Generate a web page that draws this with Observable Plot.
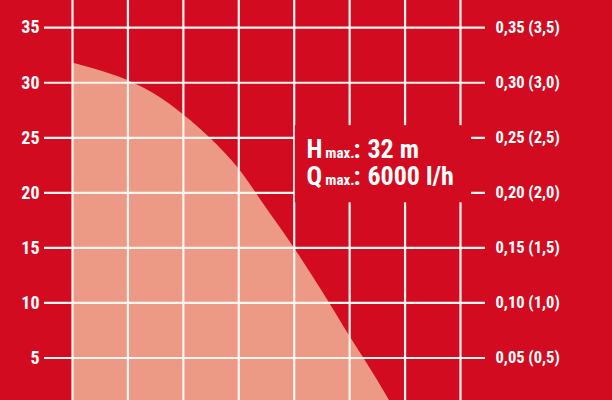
<!DOCTYPE html>
<html><head><meta charset="utf-8">
<script src="https://cdn.jsdelivr.net/npm/d3@7"></script>
<script src="https://cdn.jsdelivr.net/npm/@observablehq/plot@0.6"></script>
<style>
html,body{margin:0;padding:0;background:#d30b20;overflow:hidden;}
svg text{font-stretch:condensed;}
</style></head><body><div id="chart"></div>
<script>
// Flow (thousand l/h) and head (m)
const flow = [0, 0.5, 1, 1.5, 2, 2.5, 3, 3.5, 4, 4.5, 5, 5.5, 5.85];
const head = [31.8, 31.1, 30.2, 28.9, 27.1, 24.9, 22.2, 18.6, 15.0, 11.1, 7.0, 3.0, 0];
const gridX = [0, 1, 2, 3, 4, 5, 6, 7];
const gridY = [5, 10, 15, 20, 25, 30, 35];
const rightLabels = ["0,05 (0,5)", "0,10 (1,0)", "0,15 (1,5)", "0,20 (2,0)", "0,25 (2,5)", "0,30 (3,0)", "0,35 (3,5)"];
const infoLines = [
  {big: "H", small: "max.", value: "32 m"},
  {big: "Q", small: "max.", value: "6000 l/h"}
];

const RED = "#d30b20", SALMON = "#ec9a85", LINE = "#fdf5f0";
const FONT = "'Roboto Condensed','Liberation Sans Narrow','DejaVu Sans Condensed','Arial Narrow',Roboto,sans-serif";

const curve = flow.map((q, i) => ({q, h: head[i]}));
// annotation layout (data units)
const box = [{x1: 4.02, x2: 7.2, y1: 19.1, y2: 26.1}];
const lines = infoLines.map((d, i) => ({...d, y: i === 0 ? 23.2 : 20.7}));

const plot = Plot.plot({
  width: 612, height: 400,
  marginLeft: 72, marginRight: 152, marginTop: 0, marginBottom: 0,
  style: {background: RED, fontFamily: FONT, color: "white"},
  x: {domain: [0, 7], axis: null},
  y: {domain: [1.14, 37.47], axis: null},
  marks: [
    Plot.areaY(curve, {x: "q", y: "h", curve: "monotone-x", fill: SALMON, clip: true}),
    Plot.ruleX(gridX, {x: d => d, y1: 1.14, y2: 37.47, stroke: LINE, strokeWidth: 2.2}),
    Plot.ruleY(gridY, {y: d => d, x1: -0.505, x2: 7.45, stroke: LINE, strokeWidth: 2.2}),
    Plot.rect(box, {x1: "x1", x2: "x2", y1: "y1", y2: "y2", fill: RED}),
    Plot.text(lines, {x: 4.22, y: "y", text: "big", textAnchor: "start", lineAnchor: "bottom", fill: "white", fontSize: 26, fontWeight: "bold", fontFamily: FONT}),
    Plot.text(lines, {x: 4.56, y: "y", text: "small", textAnchor: "start", lineAnchor: "bottom", fill: "white", fontSize: 15, fontWeight: "bold", fontFamily: FONT}),
    Plot.text(lines, {x: 5.07, y: "y", text: d => ":", textAnchor: "start", lineAnchor: "bottom", fill: "white", fontSize: 26, fontWeight: "bold", fontFamily: FONT}),
    Plot.text(lines, {x: 5.32, y: "y", text: "value", textAnchor: "start", lineAnchor: "bottom", fill: "white", fontSize: 26, fontWeight: "bold", fontFamily: FONT}),
    Plot.axisY(gridY, {anchor: "left", tickSize: 0, tickPadding: 33, fontSize: 18, fontWeight: "bold", fill: "white", fontFamily: FONT}),
    Plot.axisY(gridY, {anchor: "right", tickSize: 0, tickPadding: 35, fontSize: 16.5, fontWeight: "bold", fill: "white", fontFamily: FONT,
      tickFormat: d => rightLabels[gridY.indexOf(d)]})
  ]
});
document.getElementById("chart").appendChild(plot);
</script></body></html>
